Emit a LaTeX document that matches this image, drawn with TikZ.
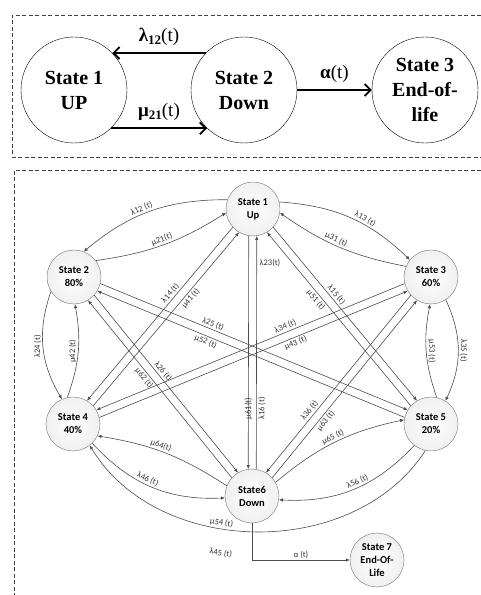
\documentclass[tikz,border=0pt]{standalone}
\usepackage{fontspec}
\setmainfont{Liberation Serif}
\newfontfamily\calibri{Carlito}
\usetikzlibrary{arrows.meta,calc}

% lowered bold index of the rates in the upper box
\newcommand\ratesub[1]{\raisebox{-0.3ex}{\fontsize{13}{13}\selectfont\bfseries #1}}

\tikzset{
  bigstate/.style={circle, draw, minimum size=106pt, inner sep=0pt, align=center,
                   font=\fontsize{20}{25}\selectfont\bfseries},
  bigarrow/.style={line width=1.8pt, -{Straight Barb[length=6pt,width=12pt]}},
  toplabel/.style={font=\fontsize{19}{19}\selectfont, above=3pt},
  state/.style={circle, draw=black!55, minimum size=54pt, inner sep=0pt, align=center,
                inner color=white, outer color=black!6,
                font=\calibri\fontsize{10.5}{13}\selectfont\bfseries},
  link/.style={draw=black!70, line width=0.6pt, -{Latex[length=4pt,width=3.5pt]}},
  rate/.style={font=\calibri\fontsize{8.5}{10}\selectfont, text=black!80, inner sep=1.5pt},
  frame/.style={draw=black!75, line width=0.8pt, dash pattern=on 4pt off 2.5pt}
}

\begin{document}
\begin{tikzpicture}[x=1pt, y=1pt]
\useasboundingbox (0,0) rectangle (480,595);

% three-state model
\draw[frame] (481,580) -| (12,438) -- (481,438);
\node[bigstate] (up)   at (74,505)  {State 1\\UP};
\node[bigstate] (down) at (244,505) {State 2\\Down};
\node[bigstate] (eol)  at (425,505) {State 3\\End-of-\\life};
\draw[bigarrow] (down.136) -- node[toplabel] {\textbf{λ}\ratesub{12}(t)} (up.44);
\draw[bigarrow] (up.-46) -- node[toplabel] {\textbf{μ}\ratesub{21}(t)} (down.-134);
\draw[bigarrow] (down) -- node[toplabel] {\textbf{α}(t)} (eol);

% seven-state model
\draw[frame] (481,425) -| (14,-1);
\node[state] (s1) at (253,386) {State 1\\Up};
\node[state] (s2) at (74,318)  {State 2\\80\%};
\node[state] (s3) at (431,318) {State 3\\60\%};
\node[state] (s4) at (73,171)  {State 4\\40\%};
\node[state] (s5) at (431,171) {State 5\\20\%};
\node[state] (s6) at (252,99)  {State6\\Down};
\node[state] (s7) at (377,35)  {State 7\\End-Of-\\Life};

% arcs between neighbours
\draw[link] (s1.160) to[bend right=20] node[rate, pos=.55, sloped, above] {λ12 (t)} (s2.69);
\draw[link] (s2.37) to[bend right=12] node[rate, pos=.5, sloped, above] {μ21(t)} (s1.188);
\draw[link] (s1.15) to[bend left=20] node[rate, pos=.6, sloped, above] {λ13 (t)} (s3.141);
\draw[link] (s3.157) to[bend left=12] node[rate, pos=.55, sloped, above] {μ31 (t)} (s1.-8);
\draw[link] (s2.212) to[bend right=25] node[rate, pos=.5, rotate=90, above] {λ24 (t)} (s4.114);
\draw[link] (s4.102) to[bend right=15] node[rate, pos=.5, rotate=90, above] {μ42 (t)} (s2.-88);
\draw[link] (s5.78) to[bend left=15] node[rate, pos=.5, rotate=-90, above] {μ53 (t)} (s3.-92);
\draw[link] (s3.-57) to[bend left=25] node[rate, pos=.5, rotate=-90, above] {λ35 (t)} (s5.58);
\draw[link] (s6.158) to[bend right=12] node[rate, pos=.55, sloped, above] {μ64(t)} (s4.-26);
\draw[link] (s4.-45) to[bend right=25] node[rate, pos=.45, sloped, above] {λ46 (t)} (s6.184);
\draw[link] (s6.30) to[bend left=14] node[rate, pos=.5, sloped, above] {μ65 (t)} (s5.171);
\draw[link] (s5.232) to[bend left=25] node[rate, pos=.45, sloped, above] {λ56 (t)} (s6.-8);
\draw[link] (s5.258) to[bend left=58]
  node[rate, pos=.59, sloped, above] {μ54 (t)}
  node[rate, pos=.58, sloped, below=19pt] {λ45 (t)} (s4.-52);

% straight pairs across the ring
\draw[link] (s1.222) -- node[rate, pos=.4, sloped, above] {λ14 (t)} (s4.59);
\draw[link] (s4.42) -- node[rate, pos=.64, sloped, below] {μ41 (t)} (s1.239);
\draw[link] (s1.318) -- node[rate, pos=.41, sloped, above] {λ15 (t)} (s5.121);
\draw[link] (s5.138) -- node[rate, pos=.63, sloped, below] {μ51 (t)} (s1.301);
\draw[link] (s1.261) -- node[rate, pos=.74, rotate=90] {μ61(t)} (s6.98);
\draw[link] (s6.81) -- node[rate, pos=.26, rotate=90, below] {λ16 (t)} (s1.278);
\draw[link] (s2.346) -- node[rate, pos=.36, sloped, above] {λ25 (t)} (s5.149);
\draw[link] (s5.166) -- node[rate, pos=.64, sloped, below] {μ52 (t)} (s2.329);
\draw[link] (s2.318) -- node[rate, pos=.45, sloped, above] {λ26 (t)} (s6.121);
\draw[link] (s6.138) -- node[rate, pos=.58, sloped, below] {μ62 (t)} (s2.301);
\draw[link] (s3.194) -- node[rate, pos=.38, sloped, above] {λ34 (t)} (s4.31);
\draw[link] (s4.14) -- node[rate, pos=.63, sloped, below] {μ43 (t)} (s3.211);
\draw[link] (s3.222) -- node[rate, pos=.67, sloped, above] {λ36 (t)} (s6.59);
\draw[link] (s6.42) -- node[rate, pos=.34, sloped, below] {μ63 (t)} (s3.239);
\node[rate] (l23) at (270,332) {λ23(t)};

% failure exit
\draw[link] (s6.south) |- node[rate, pos=.75, above] {α (t)} (s7.west);
\end{tikzpicture}
\end{document}
